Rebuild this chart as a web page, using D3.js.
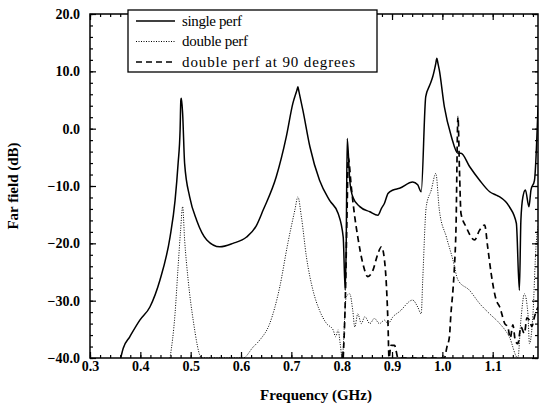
<!DOCTYPE html>
<html>
<head>
<meta charset="utf-8">
<script src="https://cdn.jsdelivr.net/npm/d3@7"></script>
<style>
  body { margin: 0; background: #fff; }
  svg { display: block; }
  text { font-family: "Liberation Serif", "Times New Roman", serif; fill: #000; }
</style>
</head>
<body>
<svg id="chart" width="540" height="408"></svg>
<script>
// frequency in GHz, far field in dB
const singleFreq = [0.361, 0.366, 0.379, 0.399, 0.419, 0.439, 0.459, 0.469, 0.475, 0.479, 0.4805, 0.4815, 0.484, 0.488, 0.498, 0.512, 0.532, 0.558, 0.584, 0.611, 0.630, 0.644, 0.670, 0.690, 0.703, 0.711, 0.713, 0.715, 0.723, 0.737, 0.756, 0.776, 0.793, 0.803, 0.807, 0.809, 0.811, 0.816, 0.822, 0.836, 0.856, 0.872, 0.879, 0.885, 0.892, 0.902, 0.915, 0.941, 0.951, 0.958, 0.967, 0.975, 0.981, 0.987, 0.989, 0.991, 0.994, 1.004, 1.018, 1.031, 1.037, 1.054, 1.074, 1.094, 1.107, 1.114, 1.133, 1.147, 1.153, 1.156, 1.160, 1.165, 1.172, 1.176, 1.183, 1.190];
const singleDb = [-40, -38.3, -36.3, -33.4, -31.1, -26.4, -18.9, -12.5, -6.1, -0.2, 5.0, 5.3, 2.7, -6.1, -11.9, -16.0, -19.4, -20.6, -20.0, -18.9, -17.0, -14.2, -8.4, -1.4, 4.4, 6.7, 7.3, 6.5, 3.2, -3.2, -9.0, -12.5, -14.8, -18.9, -28.2, -20.0, -1.7, -9.0, -11.9, -13.6, -14.5, -15.1, -13.9, -13.0, -11.3, -10.7, -10.4, -9.3, -9.8, -11.0, 5.6, 7.6, 9.1, 11.4, 12.3, 11.5, 10.2, 3.8, -1.4, -4.3, -4.3, -6.6, -9.0, -11.0, -11.6, -11.9, -13.6, -16.5, -28.2, -16.0, -11.9, -10.7, -13.6, -10.7, -9.0, 3.8];

const doubleFreq = [0.459, 0.469, 0.475, 0.480, 0.484, 0.488, 0.495, 0.505, 0.522, 0.604, 0.624, 0.637, 0.657, 0.677, 0.693, 0.707, 0.713, 0.720, 0.730, 0.743, 0.756, 0.770, 0.783, 0.788, 0.793, 0.797, 0.801, 0.809, 0.816, 0.822, 0.826, 0.832, 0.839, 0.846, 0.856, 0.865, 0.875, 0.885, 0.892, 0.902, 0.915, 0.941, 0.951, 0.958, 0.961, 0.968, 0.978, 0.987, 0.994, 1.008, 1.021, 1.031, 1.054, 1.074, 1.094, 1.114, 1.133, 1.150, 1.156, 1.163, 1.170, 1.173, 1.180, 1.186, 1.190];
const doubleDb = [-40, -32.2, -24.1, -17.7, -13.6, -19.4, -26.4, -33.4, -40, -40, -38.1, -36.9, -34.0, -27.6, -20.0, -14.2, -11.9, -15.4, -22.4, -28.2, -31.7, -34.0, -35.1, -36.3, -35.1, -37.5, -40, -29.3, -28.8, -31.7, -34.6, -32.3, -34.0, -32.8, -34.0, -33.1, -34.0, -33.4, -34.0, -32.8, -31.9, -29.9, -31.1, -32.3, -26.4, -13.6, -10.7, -7.8, -14.2, -18.9, -22.9, -26.4, -28.2, -30.5, -32.3, -34.0, -36.3, -40, -33.4, -28.8, -32.3, -37.5, -32.3, -20.6, -17.0];

const ninetyFreq = [0.803, 0.807, 0.811, 0.813, 0.819, 0.826, 0.832, 0.842, 0.852, 0.862, 0.872, 0.879, 0.885, 0.889, 0.892, 0.894, 0.898, 0.905, 0.912, 1.004, 1.009, 1.014, 1.017, 1.021, 1.024, 1.027, 1.031, 1.034, 1.037, 1.047, 1.064, 1.074, 1.084, 1.090, 1.097, 1.107, 1.114, 1.124, 1.130, 1.135, 1.140, 1.145, 1.150, 1.156, 1.163, 1.168, 1.173, 1.178, 1.183, 1.190];
const ninetyDb = [-40, -30.5, -13.0, -5.0, -10.1, -15.4, -18.9, -23.5, -25.8, -24.7, -21.8, -20.6, -22.9, -27.6, -34.0, -40, -37.8, -37.8, -40, -40, -38.1, -36.3, -32.3, -28.2, -24.1, -17.7, 2.1, -7.2, -14.8, -17.1, -19.4, -17.7, -16.8, -20.6, -25.3, -29.9, -31.1, -34.0, -34.6, -36.5, -34.2, -37.0, -37.5, -34.6, -35.7, -33.0, -33.4, -34.5, -32.8, -31.1];

const xTicks = [0.3, 0.4, 0.5, 0.6, 0.7, 0.8, 0.9, 1.0, 1.1];
const yTicks = [-40, -30, -20, -10, 0, 10, 20];
const xMinor = d3.range(15, 60).map(i => i / 50);
const yMinor = d3.range(-40, 21, 2);

const legendNames = ["single perf", "double perf", "double perf at 90 degrees"];
const legendDash = ["none", "1,1.5", "6,4"];
const legendWidth = [60, 66, 173];

const svg = d3.select("#chart");
const box = {l: 90, r: 538, t: 14, b: 358};

const x = d3.scaleLinear().domain([0.3, 1.19]).range([box.l, box.r]);
const y = d3.scaleLinear().domain([-40, 20]).range([box.b, box.t]);

svg.append("clipPath").attr("id", "plotclip")
  .append("rect").attr("x", box.l).attr("y", box.t).attr("width", box.r - box.l).attr("height", box.b - box.t);

const line = (fs, vs) => d3.line().curve(d3.curveMonotoneX)
  .x(i => x(fs[i])).y(i => y(vs[i]))(d3.range(fs.length));

const plot = svg.append("g").attr("clip-path", "url(#plotclip)");
plot.append("path").attr("d", line(doubleFreq, doubleDb))
  .attr("fill", "none").attr("stroke", "#000").attr("stroke-width", 1).attr("stroke-dasharray", "1,1.5");
plot.append("path").attr("d", line(ninetyFreq, ninetyDb))
  .attr("fill", "none").attr("stroke", "#000").attr("stroke-width", 1.7).attr("stroke-dasharray", "6,4");
plot.append("path").attr("d", line(singleFreq, singleDb))
  .attr("fill", "none").attr("stroke", "#000").attr("stroke-width", 1.5);

// frame
svg.append("rect").attr("x", box.l).attr("y", box.t).attr("width", box.r - box.l).attr("height", box.b - box.t)
  .attr("fill", "none").attr("stroke", "#000").attr("stroke-width", 1.5);

const tickStyle = g => { g.select(".domain").remove(); g.selectAll("line").attr("stroke", "#000").attr("stroke-width", 1.2); };
const labelStyle = g => g.selectAll("text").attr("font-size", 14).attr("font-weight", "bold")
  .attr("font-family", "Liberation Serif");

// bottom axis
svg.append("g").attr("transform", `translate(0,${box.b})`)
  .call(d3.axisBottom(x).tickValues(xMinor).tickSize(-3).tickFormat(""))
  .call(tickStyle);
svg.append("g").attr("transform", `translate(0,${box.b})`)
  .call(d3.axisBottom(x).tickValues(xTicks).tickSize(-6).tickPadding(3).tickFormat(d3.format(".1f")))
  .call(tickStyle).call(labelStyle);
// top axis
svg.append("g").attr("transform", `translate(0,${box.t})`)
  .call(d3.axisTop(x).tickValues(xMinor).tickSize(-3).tickFormat(""))
  .call(tickStyle);
svg.append("g").attr("transform", `translate(0,${box.t})`)
  .call(d3.axisTop(x).tickValues(xTicks).tickSize(-6).tickFormat(""))
  .call(tickStyle);
// left axis
svg.append("g").attr("transform", `translate(${box.l},0)`)
  .call(d3.axisLeft(y).tickValues(yMinor).tickSize(-3).tickFormat(""))
  .call(tickStyle);
svg.append("g").attr("transform", `translate(${box.l},0)`)
  .call(d3.axisLeft(y).tickValues(yTicks).tickSize(-6).tickPadding(10).tickFormat(d3.format(".1f")))
  .call(tickStyle).call(labelStyle);
// right axis
svg.append("g").attr("transform", `translate(${box.r},0)`)
  .call(d3.axisRight(y).tickValues(yMinor).tickSize(-3).tickFormat(""))
  .call(tickStyle);
svg.append("g").attr("transform", `translate(${box.r},0)`)
  .call(d3.axisRight(y).tickValues(yTicks).tickSize(-6).tickFormat(""))
  .call(tickStyle);

// axis titles
svg.append("text").attr("x", 316).attr("y", 400).attr("text-anchor", "middle")
  .attr("font-size", 15).attr("font-weight", "bold").text("Frequency (GHz)");
svg.append("text").attr("transform", "translate(18,186) rotate(-90)").attr("text-anchor", "middle")
  .attr("font-size", 15).attr("font-weight", "bold").text("Far field (dB)");

// legend
const legend = svg.append("g");
legend.append("rect").attr("x", 128).attr("y", 10).attr("width", 249).attr("height", 62)
  .attr("fill", "#fff").attr("stroke", "#000").attr("stroke-width", 1.3);
legendNames.forEach((name, i) => {
  const ly = 21 + i * 20.5;
  legend.append("line").attr("x1", 136).attr("x2", 175).attr("y1", ly).attr("y2", ly)
    .attr("stroke", "#000").attr("stroke-width", i === 1 ? 1 : 1.5).attr("stroke-dasharray", legendDash[i]);
  legend.append("text").attr("x", 182).attr("y", ly + 4.5).attr("font-size", 15)
    .attr("textLength", legendWidth[i]).attr("lengthAdjust", "spacing").text(name);
});
</script>
</body>
</html>
